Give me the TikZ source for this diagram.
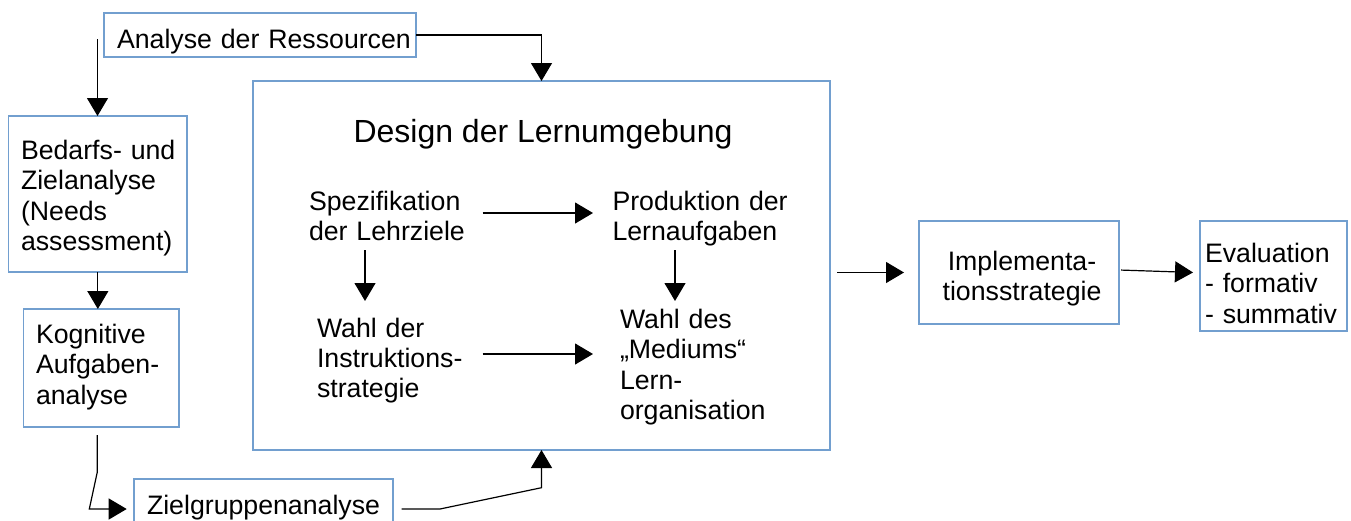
\documentclass[tikz,border=0pt]{standalone}
\usepackage{fontspec}
\setmainfont{Liberation Sans}
\usetikzlibrary{arrows.meta,calc}
\definecolor{boxblue}{RGB}{114,159,207}
\begin{document}
\begin{tikzpicture}[x=1pt,y=-1pt,
  box/.style={draw=boxblue,line width=1.3pt,rectangle,inner sep=0pt,outer sep=0pt},
  txt/.style={inner sep=0pt,outer sep=0pt,anchor=base west,align=left,text width=340pt,font=\fontsize{26.7pt}{30.6pt}\selectfont},
  ctxt/.style={inner sep=0pt,outer sep=0pt,anchor=base,align=center,text width=220pt,font=\fontsize{26.7pt}{30.2pt}\selectfont},
  arr/.style={draw=black,line width=1.2pt,-{Triangle[length=18pt,width=21pt]}}]

\useasboundingbox (0,0) rectangle (1351,520);
\clip (0,0) rectangle (1351,520);
\fill[white] (0,0) rectangle (1351,520);

% boxes
\node[box,minimum width=312pt,minimum height=44pt] (ana) at (260,35) {};
\node[box,minimum width=178.3pt,minimum height=156pt] (bed) at (97.85,194) {};
\node[box,minimum width=155.7pt,minimum height=118pt] (kog) at (101.15,368) {};
\node[box,minimum width=259pt,minimum height=60pt] (ziel) at (263.5,509) {};
\node[box,minimum width=577pt,minimum height=369pt] (des) at (541.5,265.5) {};
\node[box,minimum width=200pt,minimum height=103pt] (impl) at (1019,272.5) {};
\node[box,minimum width=147pt,minimum height=110pt] (eval) at (1273.5,276) {};

% texts
\node[txt] (anat) at (117,48) {Analyse der Ressourcen};
\node[txt] (bedt) at (21,159) {Bedarfs- und\\Zielanalyse\\(Needs\\assessment)};
\node[txt] (kogt) at (36,343) {Kognitive\\Aufgaben-\\analyse};
\node[txt] (zielt) at (147,514) {Zielgruppenanalyse};
\node[inner sep=0pt,anchor=base,font=\fontsize{32pt}{38pt}\selectfont] (dest) at (543,142) {Design der Lernumgebung};
\node[txt] (spez) at (309,210) {Spezifikation\\der Lehrziele};
\node[txt] (prod) at (612.5,210) {Produktion der\\Lernaufgaben};
\node[txt,font=\fontsize{26.7pt}{30pt}\selectfont] (wder) at (317,337) {Wahl der\\Instruktions-\\strategie};
\node[txt] (wdes) at (620,328) {Wahl des\\„Mediums“\\Lern-\\organisation};
\node[ctxt] (implt) at (1022,270) {Implementa-\\tionsstrategie};
\node[txt,font=\fontsize{26.7pt}{30.5pt}\selectfont] (evalt) at (1205,262) {Evaluation\\- formativ\\- summativ};

% connectors
\coordinate (a0) at (97.5,39);
\draw[arr] (a0) -- (a0 |- bed.north);
\draw[arr] (ana.east) -| (des.north);
\draw[arr] (bed.south) -- (bed.south |- kog.north);

\coordinate (k1) at (97.3,435);
\coordinate (k2) at (97.3,472);
\coordinate (k3) at (89.3,509);
\draw[arr,shorten >=7.3pt] (k1) -- (k2) -- (k3) -- (k3 -| ziel.west);

\coordinate (z1) at (440,509);
\coordinate (z2) at (541.5,487.7);
\draw[arr,shorten <=8.7pt] (ziel.east) -- (z1) -- (z2) -- (z2 |- des.south);

\draw[arr] ($(spez.base west)+(173.5,3)$) -- ($(prod.base west)+(-19.5,3)$);
\draw[arr] ($(spez.base west)+(56,40)$) -- ($(wder.base west)+(48,-36)$);
\draw[arr] ($(prod.base west)+(62.5,40)$) -- ($(wdes.base west)+(55,-27)$);
\draw[arr] ($(wder.base west)+(165.5,17)$) -- ($(wdes.base west)+(-27,26)$);

\draw[arr,shorten <=7pt,shorten >=15pt] (impl.west -| des.east) -- (impl.west);
\draw[arr,shorten <=2pt,shorten >=7pt] ([yshift=2.5pt]impl.east) -- ([yshift=3.3pt]eval.west);
\end{tikzpicture}
\end{document}
